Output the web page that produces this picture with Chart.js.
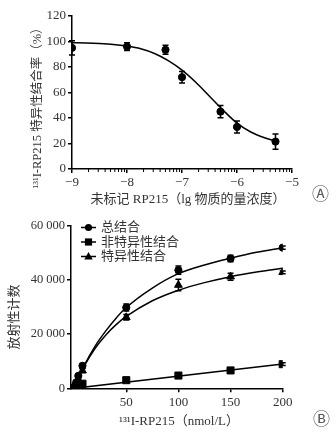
<!DOCTYPE html>
<html lang="zh">
<head>
<meta charset="UTF-8">
<title>RP215 结合实验</title>
<script src="https://cdn.jsdelivr.net/npm/chart.js"></script>
<style>
    body { margin: 0; background: #fff; width: 336px; height: 434px; position: relative; overflow: hidden; }
    canvas { position: absolute; left: 0; }
    #chartA { top: 0; }
    #chartB { top: 210px; }
    .tag { position: absolute; font-family: 'DejaVu Sans', 'Noto Sans CJK SC', sans-serif; font-size: 17px; color: #555; line-height: 1; }
</style>
</head>
<body>
<canvas id="chartA" width="336" height="210"></canvas>
<canvas id="chartB" width="336" height="224"></canvas>
<div class="tag" style="left:312px; top:186px;">Ⓐ</div>
<div class="tag" style="left:313px; top:411px;">Ⓑ</div>

<script>
// ---- A: 竞争抑制曲线 ----
const logConc = [-9, -8, -7.3, -7, -6.3, -6, -5.3];
const bindRate = [95, 96, 93.5, 72, 45, 33, 21.5];
const bindErr = [5.5, 3, 3.5, 4.5, 4.8, 4.7, 6];
const fitLogConc = [-9, -8.75, -8.5, -8.25, -8, -7.75, -7.5, -7.25, -7, -6.75, -6.5, -6.25, -6, -5.75, -5.5, -5.3];
const fitRate = [99, 98.8, 98.4, 97.7, 96.4, 94.3, 90.6, 85, 77.5, 68, 57, 46, 36, 29, 24.5, 22];
const xTicksA = [-9, -8, -7, -6, -5];
const yTicksA = [0, 20, 40, 60, 80, 100, 120];

// ---- B: 饱和结合曲线 ----
const concB = [1, 2, 4, 8, 50, 100, 150, 200];
const totalB = [900, 2200, 4600, 8300, 29800, 43600, 47900, 51900];
const totalErr = [300, 400, 500, 700, 1300, 1500, 1200, 600];
const nonspecB = [300, 700, 1200, 1700, 3000, 4700, 6600, 8900];
const nonspecErr = [200, 200, 300, 300, 400, 400, 500, 500];
const specB = [600, 1500, 3300, 6500, 26200, 38100, 41200, 42800];
const specErr = [300, 400, 500, 700, 1000, 2100, 1300, 500];
const fitConcB = [0, 2, 5, 10, 20, 30, 40, 50, 75, 100, 125, 150, 175, 200];
const totalFit = [0, 2000, 4700, 8700, 15500, 21000, 25800, 29800, 37000, 42300, 45500, 48000, 50200, 51900];
const specFit = [0, 1900, 4550, 8450, 14700, 19500, 23400, 26500, 32300, 36200, 39000, 41200, 42900, 44300];
const nonspecLineX = [0, 200];
const nonspecLineY = [0, 9000];
const xTicksB = [50, 100, 150, 200];
const yTicksB = [0, 20000, 40000, 60000];

const serif = "'Liberation Serif', 'Noto Sans CJK SC', serif";
const toXY = (xs, ys) => xs.map((x, i) => ({x: x, y: ys[i]}));

// 误差线
const errorBars = {
    id: 'errorBars',
    afterDatasetsDraw(chart) {
        const ctx = chart.ctx;
        const xs = chart.scales.x, ys = chart.scales.y;
        chart.data.datasets.forEach(ds => {
            if (!ds.errors) return;
            ctx.save();
            ctx.strokeStyle = '#000';
            ctx.lineWidth = 1.5;
            ds.data.forEach((p, j) => {
                const e = ds.errors[j];
                if (!e) return;
                const px = xs.getPixelForValue(p.x);
                const top = ys.getPixelForValue(p.y + e);
                const bot = ys.getPixelForValue(p.y - e);
                ctx.beginPath();
                ctx.moveTo(px, top); ctx.lineTo(px, bot);
                ctx.moveTo(px - 3, top); ctx.lineTo(px + 3, top);
                ctx.moveTo(px - 3, bot); ctx.lineTo(px + 3, bot);
                ctx.stroke();
            });
            ctx.restore();
        });
    }
};

// 对数小刻度
const minorTicks = {
    id: 'minorTicks',
    afterDraw(chart) {
        const ctx = chart.ctx;
        const xs = chart.scales.x;
        const y0 = xs.top;
        ctx.save();
        ctx.strokeStyle = '#000';
        ctx.lineWidth = 1;
        for (let d = xTicksA[0]; d < xTicksA[xTicksA.length - 1]; d++) {
            for (let k = 2; k <= 9; k++) {
                const px = xs.getPixelForValue(d + Math.log10(k));
                ctx.beginPath();
                ctx.moveTo(px, y0);
                ctx.lineTo(px, y0 + 3);
                ctx.stroke();
            }
        }
        ctx.restore();
    }
};

// 坐标轴标题
const axisText = {
    id: 'axisText',
    afterDraw(chart, args, opts) {
        const ctx = chart.ctx;
        (opts.items || []).forEach(t => {
            ctx.save();
            ctx.translate(t.x, t.y);
            if (t.rotate) ctx.rotate(-Math.PI / 2);
            ctx.font = t.font;
            ctx.fillStyle = '#333';
            ctx.textAlign = 'center';
            ctx.textBaseline = 'middle';
            ctx.fillText(t.text, 0, 0);
            ctx.restore();
        });
    }
};

function marker(ctx, style, x, y) {
    ctx.beginPath();
    if (style === 'circle') {
        ctx.arc(x, y, 3.6, 0, Math.PI * 2);
    } else if (style === 'rect') {
        ctx.rect(x - 3.6, y - 3.6, 7.2, 7.2);
    } else {
        ctx.moveTo(x, y - 4.5);
        ctx.lineTo(x + 4.2, y + 3);
        ctx.lineTo(x - 4.2, y + 3);
        ctx.closePath();
    }
    ctx.fill();
}

// 图例：线段 + 标记
const lineLegend = {
    id: 'lineLegend',
    afterDraw(chart, args, opts) {
        const ctx = chart.ctx;
        const items = chart.data.datasets.filter(ds => ds.legend);
        ctx.save();
        ctx.fillStyle = '#000';
        ctx.strokeStyle = '#000';
        ctx.lineWidth = 1.5;
        ctx.font = '13px ' + serif;
        ctx.textBaseline = 'middle';
        items.forEach((ds, i) => {
            const y = opts.y + i * opts.gap;
            ctx.beginPath();
            ctx.moveTo(opts.x, y);
            ctx.lineTo(opts.x + 15, y);
            ctx.stroke();
            marker(ctx, ds.pointStyle, opts.x + 7.5, y);
            ctx.fillStyle = '#333';
            ctx.fillText(ds.label, opts.x + 20, y + 0.5);
            ctx.fillStyle = '#000';
        });
        ctx.restore();
    }
};

const axisBase = {
    grid: { display: true, drawOnChartArea: false, drawTicks: true, tickLength: 4, color: '#000', lineWidth: 1.5 },
    border: { display: true, color: '#000', width: 1.5 }
};

new Chart(document.getElementById('chartA'), {
    type: 'scatter',
    data: {
        datasets: [{
            label: '拟合',
            data: toXY(fitLogConc, fitRate),
            showLine: true,
            cubicInterpolationMode: 'monotone',
            borderColor: '#000',
            borderWidth: 1.5,
            pointRadius: 0
        }, {
            label: '特异性结合率',
            data: toXY(logConc, bindRate),
            errors: bindErr,
            backgroundColor: '#000',
            borderColor: '#000',
            pointRadius: 3.6
        }]
    },
    options: {
        responsive: false,
        animation: false,
        layout: { padding: { top: 16, right: 44, left: 0, bottom: 0 } },
        plugins: {
            legend: { display: false },
            tooltip: { enabled: false },
            axisText: { items: [
                { text: '¹³¹I-RP215 特异性结合率（%）', x: 38, y: 105, rotate: true, font: '12.5px ' + serif },
                { text: '未标记 RP215（lg 物质的量浓度）', x: 188, y: 200, font: '13px ' + serif }
            ] }
        },
        scales: {
            x: {
                ...axisBase,
                type: 'linear',
                min: xTicksA[0],
                max: xTicksA[xTicksA.length - 1],
                afterBuildTicks: s => { s.ticks = xTicksA.map(v => ({value: v})); },
                afterFit: s => { s.height = 41; },
                ticks: {
                    color: '#333', padding: 2,
                    font: { family: serif, size: 13 },
                    callback: v => v < 0 ? '\u2212' + Math.abs(v) : v
                }
            },
            y: {
                ...axisBase,
                min: 0,
                max: 120,
                afterBuildTicks: s => { s.ticks = yTicksA.map(v => ({value: v})); },
                afterFit: s => { s.width = 72; },
                ticks: { color: '#333', padding: 2, font: { family: serif, size: 13 } }
            }
        }
    },
    plugins: [errorBars, minorTicks, axisText]
});

new Chart(document.getElementById('chartB'), {
    type: 'scatter',
    data: {
        datasets: [{
            label: '总结合',
            legend: true,
            data: toXY(concB, totalB),
            errors: totalErr,
            pointStyle: 'circle',
            pointRadius: 3.6,
            backgroundColor: '#000',
            borderColor: '#000'
        }, {
            label: '非特异性结合',
            legend: true,
            data: toXY(concB, nonspecB),
            errors: nonspecErr,
            pointStyle: 'rect',
            pointRadius: 5,
            backgroundColor: '#000',
            borderColor: '#000'
        }, {
            label: '特异性结合',
            legend: true,
            data: toXY(concB, specB),
            errors: specErr,
            pointStyle: 'triangle',
            pointRadius: 4.5,
            backgroundColor: '#000',
            borderColor: '#000'
        }, {
            label: '总结合拟合',
            data: toXY(fitConcB, totalFit),
            showLine: true, cubicInterpolationMode: 'monotone',
            borderColor: '#000', borderWidth: 1.5, pointRadius: 0
        }, {
            label: '特异性结合拟合',
            data: toXY(fitConcB, specFit),
            showLine: true, cubicInterpolationMode: 'monotone',
            borderColor: '#000', borderWidth: 1.5, pointRadius: 0
        }, {
            label: '非特异性结合拟合',
            data: toXY(nonspecLineX, nonspecLineY),
            showLine: true,
            borderColor: '#000', borderWidth: 1.5, pointRadius: 0
        }]
    },
    options: {
        responsive: false,
        animation: false,
        layout: { padding: { top: 15.7, right: 53.3, left: 0, bottom: 0 } },
        plugins: {
            legend: { display: false },
            tooltip: { enabled: false },
            lineLegend: { x: 81, y: 17.5, gap: 14.5 },
            axisText: { items: [
                { text: '放射性计数', x: 15, y: 107, rotate: true, font: '13px ' + serif },
                { text: '¹³¹I-RP215（nmol/L）', x: 179, y: 211.7, font: '13px ' + serif }
            ] }
        },
        scales: {
            x: {
                ...axisBase,
                type: 'linear',
                min: -3,
                max: 200,
                afterBuildTicks: s => { s.ticks = xTicksB.map(v => ({value: v})); },
                afterFit: s => { s.height = 45.7; },
                ticks: { color: '#333', padding: 2, font: { family: serif, size: 13 } }
            },
            y: {
                ...axisBase,
                min: 0,
                max: 60000,
                afterBuildTicks: s => { s.ticks = yTicksB.map(v => ({value: v})); },
                afterFit: s => { s.width = 71; },
                ticks: {
                    color: '#333', padding: 2,
                    font: { family: serif, size: 12.5 },
                    callback: v => v === 0 ? '0' : (v / 1000) + ' 000'
                }
            }
        }
    },
    plugins: [errorBars, lineLegend, axisText]
});
</script>
</body>
</html>
